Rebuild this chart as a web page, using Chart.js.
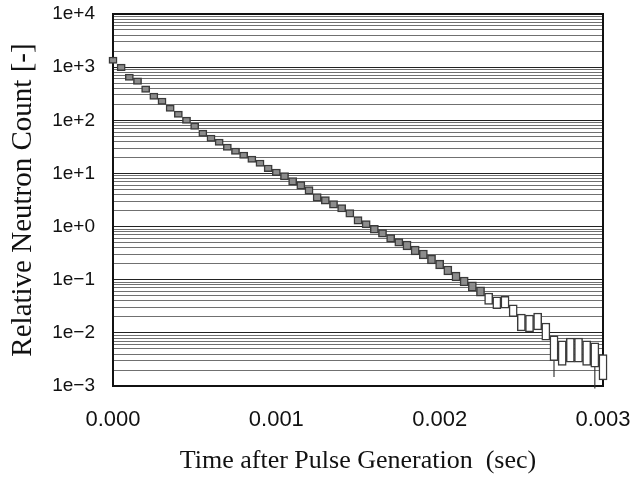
<!DOCTYPE html>
<html>
<head>
<meta charset="utf-8">
<script src="https://cdn.jsdelivr.net/npm/chart.js@4/dist/chart.umd.min.js"></script>
<style>
  html, body { margin: 0; padding: 0; background: #fff; }
  #wrap { width: 632px; height: 481px; }
</style>
</head>
<body>
<div id="wrap"><canvas id="neutronChart" width="632" height="481"></canvas></div>
<script>
// time bins (sec), one every 0.00005 s
const times = [
  0.00000, 0.00005, 0.00010, 0.00015, 0.00020, 0.00025, 0.00030, 0.00035, 0.00040, 0.00045,
  0.00050, 0.00055, 0.00060, 0.00065, 0.00070, 0.00075, 0.00080, 0.00085, 0.00090, 0.00095,
  0.00100, 0.00105, 0.00110, 0.00115, 0.00120, 0.00125, 0.00130, 0.00135, 0.00140, 0.00145,
  0.00150, 0.00155, 0.00160, 0.00165, 0.00170, 0.00175, 0.00180, 0.00185, 0.00190, 0.00195,
  0.00200, 0.00205, 0.00210, 0.00215, 0.00220, 0.00225, 0.00230, 0.00235, 0.00240, 0.00245,
  0.00250, 0.00255, 0.00260, 0.00265, 0.00270, 0.00275, 0.00280, 0.00285, 0.00290, 0.00295,
  0.00300
];

// relative neutron count
const counts = [
  1360, 1000, 650, 550, 390, 286, 231, 170, 131, 101,
  78, 57.6, 46.4, 39.0, 31.4, 26.4, 22.2, 18.7, 15.7, 12.6,
  10.6, 8.94, 7.19, 6.05, 4.87, 3.60, 3.16, 2.66, 2.24, 1.80,
  1.33, 1.12, 0.90, 0.757, 0.609, 0.512, 0.450, 0.362, 0.305, 0.245,
  0.197, 0.152, 0.117, 0.0946, 0.0760, 0.0612, 0.0453, 0.0380, 0.0390, 0.0269,
  0.0167, 0.0160, 0.0175, 0.0113, 0.0059, 0.00475, 0.0054, 0.0054, 0.00475, 0.00436,
  0.0026
];

// +/- error on each count
const errors = [
  190, 140, 90, 76, 54, 39, 32, 23, 18, 14,
  10.8, 7.9, 6.4, 5.4, 4.4, 3.7, 3.1, 2.6, 2.2, 1.8,
  1.5, 1.4, 1.15, 0.98, 0.78, 0.58, 0.51, 0.43, 0.36, 0.29,
  0.22, 0.18, 0.15, 0.125, 0.098, 0.083, 0.085, 0.068, 0.058, 0.046,
  0.037, 0.029, 0.022, 0.018, 0.015, 0.012, 0.011, 0.0095, 0.0098, 0.0067,
  0.0058, 0.0056, 0.0061, 0.0040, 0.0029, 0.0023, 0.0026, 0.0026, 0.0023, 0.0021,
  0.0013
];

// a couple of long lower whiskers near the end
const whiskerTimes = [0.00270, 0.00295];
const whiskerLow = [0.00148, 0.0009];
const whiskerHigh = [0.0030, 0.0023];

const xTicks = [0.000, 0.001, 0.002, 0.003];
const xTickLabels = ["0.000", "0.001", "0.002", "0.003"];
const yMajorTicks = [1e-3, 1e-2, 1e-1, 1e0, 1e1, 1e2, 1e3, 1e4];
const yTickLabels = ["1e\u22123", "1e\u22122", "1e\u22121", "1e+0", "1e+1", "1e+2", "1e+3", "1e+4"];

const boxData = times.map((t, i) => ({
  x: t,
  y: [counts[i] - errors[i], counts[i] + errors[i]],
}));
const whiskerData = whiskerTimes.map((t, i) => ({
  x: t,
  y: [whiskerLow[i], whiskerHigh[i]],
}));

// frame round the plot area
const frame = {
  id: "frame",
  beforeDatasetsDraw(chart) {
    const { ctx, chartArea: a } = chart;
    ctx.save();
    ctx.strokeStyle = "#111";
    ctx.lineWidth = 2;
    ctx.strokeRect(a.left, a.top, a.right - a.left, a.bottom - a.top);
    ctx.restore();
  },
};

const ctx = document.getElementById("neutronChart").getContext("2d");
new Chart(ctx, {
  type: "bar",
  data: {
    datasets: [
      {
        label: "counts",
        data: boxData,
        grouped: false,
        barPercentage: 1,
        categoryPercentage: 1,
        borderSkipped: false,
        borderWidth: 1.5,
        borderColor: "#3a3a3a",
        backgroundColor: (c) => {
          const r = c.raw ? c.raw.y[1] / c.raw.y[0] : 1;
          return r < 1.6 ? "#8c8c8c" : "#ffffff";
        },
        clip: false,
      },
      {
        label: "whiskers",
        data: whiskerData,
        grouped: false,
        barPercentage: 0.14,
        categoryPercentage: 1,
        borderWidth: 0,
        backgroundColor: "#333",
        clip: false,
      },
    ],
  },
  options: {
    responsive: false,
    animation: false,
    devicePixelRatio: 1,
    layout: { padding: { left: 4, right: 29, top: 14, bottom: 2 } },
    plugins: {
      legend: { display: false },
      tooltip: { enabled: false },
    },
    scales: {
      x: {
        type: "linear",
        min: 0,
        max: 0.003,
        offset: false,
        grid: { display: false, offset: false },
        border: { display: false },
        afterBuildTicks: (scale) => {
          scale.ticks = xTicks.map((v) => ({ value: v }));
        },
        afterFit: (scale) => {
          scale.height = 481 - 386 - 2;
          scale.paddingLeft = 0;
          scale.paddingRight = 0;
        },
        ticks: {
          padding: 13,
          color: "#111",
          font: { family: "'Liberation Sans', Arial, sans-serif", size: 22 },
          callback: (v) => {
            const i = xTicks.findIndex((t) => Math.abs(t - v) < 1e-9);
            return i >= 0 ? xTickLabels[i] : "";
          },
        },
        title: {
          display: true,
          text: "Time after Pulse Generation  (sec)",
          color: "#111",
          padding: { top: 4, bottom: 2 },
          font: { family: "'Liberation Serif', 'Times New Roman', serif", size: 26 },
        },
      },
      y: {
        type: "logarithmic",
        min: 1e-3,
        max: 1e4,
        border: { display: false },
        afterBuildTicks: (scale) => {
          const t = [];
          yMajorTicks.forEach((m, i) => {
            t.push({ value: m, major: true });
            if (i < yMajorTicks.length - 1) {
              for (let k = 2; k <= 9; k++) t.push({ value: m * k });
            }
          });
          scale.ticks = t;
        },
        afterFit: (scale) => {
          scale.width = 113 - 4;
          scale.paddingTop = 0;
          scale.paddingBottom = 0;
        },
        grid: {
          drawTicks: false,
          lineWidth: 1,
          color: (c) => (c.tick && c.tick.major ? "#222" : "#707070"),
        },
        ticks: {
          autoSkip: false,
          padding: 18,
          color: "#111",
          font: { family: "'Liberation Sans', Arial, sans-serif", size: 19 },
          callback: (v) => {
            const i = yMajorTicks.findIndex((m) => Math.abs(m - v) / m < 1e-6);
            return i >= 0 ? yTickLabels[i] : "";
          },
        },
        title: {
          display: true,
          text: "Relative Neutron Count [-]",
          color: "#111",
          padding: { top: 2, bottom: 2 },
          font: { family: "'Liberation Serif', 'Times New Roman', serif", size: 29 },
        },
      },
    },
  },
  plugins: [frame],
});
</script>
</body>
</html>
